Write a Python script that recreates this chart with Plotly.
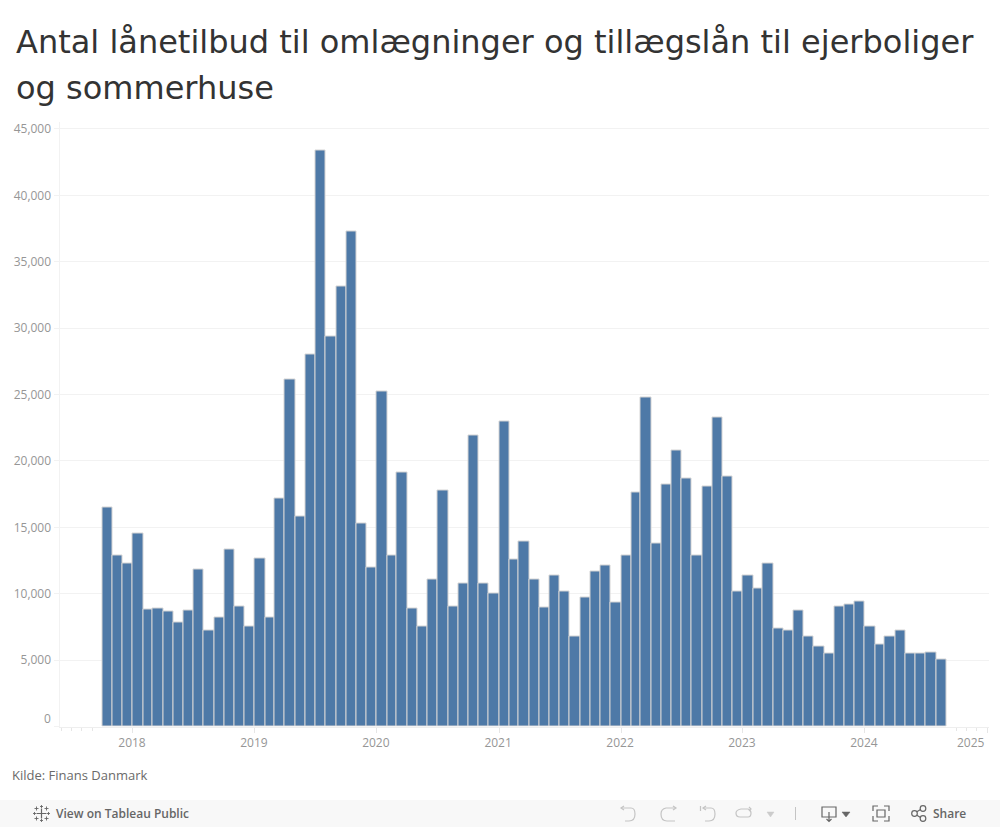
import pandas as pd
import plotly.graph_objects as go

TITLE_LINE_1 = "Antal lånetilbud til omlægninger og tillægslån til ejerboliger"
TITLE_LINE_2 = "og sommerhuse"
SOURCE = "Kilde: Finans Danmark"
FIRST_MONTH = "2017-10-01"
VALUES = [
    16500, 12850, 12250,
    14500, 8800, 8850, 8650, 7800, 8700, 11800, 7200, 8200, 13300, 9000, 7500,
    12650, 8200, 17200, 26100, 15850, 28000, 43350, 29400, 33100, 37250, 15300, 11950,
    25250, 12850, 19150, 8850, 7500, 11100, 17750, 9000, 10800, 21950, 10800, 10050,
    22950, 12550, 13900, 11050, 8950, 11350, 10150, 6800, 9750, 11700, 12150, 9350,
    12900, 17600, 24750, 13750, 18250, 20750, 18650, 12900, 18050, 23300, 18850, 10150,
    11400, 10400, 12250, 7350, 7250, 8700, 6800, 6000, 5500, 9000, 9200, 9400,
    7550, 6200, 6800, 7200, 5500, 5500, 5600, 5050,
]
YEAR_TICKS = ["2018", "2019", "2020", "2021", "2022", "2023", "2024", "2025"]
Y_TICKS = [0, 5000, 10000, 15000, 20000, 25000, 30000, 35000, 40000, 45000]
EMPTY_MONTH_TICKS = ["2017-06-01", "2017-07-01", "2017-08-01", "2017-09-01",
                     "2024-10-01", "2024-11-01", "2024-12-01"]

W, H = 1000, 827
BAR = "#4e79a7"
EDGE = "#d4d4d4"
GRID = "#f2f2f2"
LABEL = "#969696"
TOOL = "#666666"
FAINT = "#c4c4c4"
FONT = "Open Sans, sans-serif"
TITLE_FONT = dict(family="DejaVu Sans, sans-serif", size=32, color="#333333")


def px(x):
    return x / W


def py(y):
    return 1 - y / H


def path(cmds, color, width=1.2, fill=None):
    out = []
    for c in cmds:
        if isinstance(c, str):
            out.append(c)
        else:
            out.append(f"{px(c[0]):.5f} {py(c[1]):.5f}")
    d = dict(type="path", xref="paper", yref="paper", path=" ".join(out),
             line=dict(color=color, width=width), layer="above")
    if fill:
        d["fillcolor"] = fill
    return d


months = pd.date_range(FIRST_MONTH, periods=len(VALUES) + 1, freq="MS")
widths = [(b - a).total_seconds() * 1000 for a, b in zip(months[:-1], months[1:])]

fig = go.Figure(go.Bar(
    x=months[:-1], y=VALUES, width=widths, offset=0,
    marker=dict(color=BAR, line=dict(color=EDGE, width=1)),
    hovertemplate="%{x|%b %Y}: %{y:,}<extra></extra>",
))

shapes = [
    dict(type="rect", xref="paper", yref="paper", x0=0, x1=1, y0=py(827), y1=py(800),
         fillcolor="#f8f8f8", line=dict(width=0), layer="below"),
]
# Tableau toolbar snowflake: one big cross and eight small ones
cx, cy = 41.5, 813.5
shapes.append(path(["M", (cx - 5, cy), "L", (cx + 5, cy), "M", (cx, cy - 5), "L", (cx, cy + 5)], TOOL, 1.2))
for ox, oy, r in [(0, -7, 1.5), (0, 7, 1.5), (-7, 0, 1.5), (7, 0, 1.5),
                  (-5, -5, 2), (5, -5, 2), (-5, 5, 2), (5, 5, 2)]:
    shapes.append(path(["M", (cx + ox - r, cy + oy), "L", (cx + ox + r, cy + oy),
                        "M", (cx + ox, cy + oy - r), "L", (cx + ox, cy + oy + r)], TOOL, 0.9))
# undo / redo / revert / refresh
shapes += [
    path(["M", (621, 808), "L", (631, 808), "Q", (635, 808), (635, 814), "Q", (635, 821), (629, 821), "L", (625, 821)], FAINT),
    path(["M", (624, 806), "L", (621, 808), "L", (624, 810)], FAINT),
    path(["M", (675, 808), "L", (666, 808), "Q", (661, 809), (661, 814), "Q", (661, 821), (667, 821), "L", (675, 821)], FAINT),
    path(["M", (673, 806), "L", (676, 808), "L", (673, 810)], FAINT),
    path(["M", (700.5, 806), "L", (700.5, 811)], FAINT),
    path(["M", (703, 808), "L", (711, 808), "Q", (715, 808), (715, 814), "Q", (715, 821), (709, 821), "L", (705, 821)], FAINT),
    path(["M", (706, 806), "L", (703, 808), "L", (706, 810)], FAINT),
    path(["M", (741, 809), "L", (748, 809), "Q", (751, 810), (751, 813), "Q", (751, 817), (748, 817),
          "L", (740, 817), "Q", (736, 817), (736, 813), "Q", (736, 810), (741, 809)], FAINT),
    path(["M", (749, 807), "L", (751, 809), "L", (749, 811)], FAINT),
    path(["M", (767, 812), "L", (774, 812), "L", (770.5, 817), "Z"], "#cccccc", 0.5, "#cccccc"),
    path(["M", (795.5, 807), "L", (795.5, 820)], FAINT, 1),
    # download
    path(["M", (822, 807), "L", (836, 807), "L", (836, 817), "L", (822, 817), "Z"], TOOL),
    path(["M", (829, 812), "L", (829, 821), "M", (826.5, 819), "L", (829, 821.5), "L", (831.5, 819)], TOOL),
    path(["M", (842, 812), "L", (850, 812), "L", (846, 817), "Z"], TOOL, 0.5, TOOL),
    # fullscreen
    path(["M", (873, 811), "L", (873, 806), "L", (878, 806), "M", (884, 806), "L", (889, 806), "L", (889, 811),
          "M", (889, 816), "L", (889, 821), "L", (884, 821), "M", (878, 821), "L", (873, 821), "L", (873, 816)], TOOL),
    path(["M", (877, 810), "L", (885, 810), "L", (885, 817), "L", (877, 817), "Z"], TOOL),
    # share
    path(["M", (914, 813.5), "L", (923, 808), "M", (914, 813.5), "L", (923, 819)], TOOL),
]
for sx, sy in [(914.5, 813.5), (923, 808.5), (923, 818.5)]:
    shapes.append(dict(type="circle", xref="paper", yref="paper",
                       x0=px(sx - 2.8), x1=px(sx + 2.8), y0=py(sy + 2.8), y1=py(sy - 2.8),
                       line=dict(color=TOOL, width=1.2), fillcolor="#f8f8f8", layer="above"))

annotations = [
    dict(text=TITLE_LINE_2, x=px(15), y=py(88), xanchor="left", yanchor="middle", font=TITLE_FONT),
    dict(text=SOURCE, x=px(11), y=py(775), xanchor="left", yanchor="middle", font=dict(size=13, color="#6a6a6a")),
    dict(text="View on Tableau Public", x=px(54.5), y=py(813.5), xanchor="left", yanchor="middle",
         font=dict(size=12, color=TOOL, weight=600)),
    dict(text="Share", x=px(931.5), y=py(813.5), xanchor="left", yanchor="middle",
         font=dict(size=12, color=TOOL, weight=600)),
    dict(text=YEAR_TICKS[-1], x=px(985.5), y=py(742.5), xanchor="right", yanchor="middle",
         font=dict(size=12, color=LABEL)),
    dict(text=f"{Y_TICKS[0]:,}", x=px(52), y=py(718), xanchor="right", yanchor="middle",
         font=dict(size=12, color=LABEL)),
]
for a in annotations:
    a.update(xref="paper", yref="paper", showarrow=False, borderpad=0)

fig.update_layout(
    width=W, height=H,
    margin=dict(l=0, r=0, t=0, b=0),
    paper_bgcolor="white", plot_bgcolor="white",
    font=dict(family=FONT, size=12, color=LABEL),
    showlegend=False,
    bargap=0,
    title=dict(text=TITLE_LINE_1, x=px(16), y=py(42), xanchor="left", yanchor="middle", xref="paper", yref="paper",
               font=TITLE_FONT, automargin=False),
    xaxis=dict(
        domain=[px(59.5), px(988.5)], range=["2017-05-26", "2025-01-05"],
        tickvals=[f"{y}-01-01" for y in YEAR_TICKS], ticktext=YEAR_TICKS[:-1] + [""],
        ticks="outside", ticklen=5, tickcolor="#e6e6e6", tickwidth=1,
        tickfont=dict(size=12, color=LABEL), ticklabelshift=-1,
        minor=dict(tickmode="array", tickvals=EMPTY_MONTH_TICKS, ticks="outside", ticklen=3,
                   tickcolor="#e6e6e6", showgrid=False),
        showgrid=False, showline=True, linecolor="#eeeeee", linewidth=1, zeroline=False,
    ),
    yaxis=dict(
        domain=[py(726.5), py(121.5)], range=[0, 45560],
        tickvals=Y_TICKS, ticktext=[""] + [f"{v:,}" for v in Y_TICKS[1:]],
        ticks="outside", ticklen=5, tickcolor=GRID, tickfont=dict(size=12, color=LABEL),
        showgrid=True, gridcolor=GRID, gridwidth=1,
        showline=True, linecolor=GRID, linewidth=1, zeroline=False,
    ),
    shapes=shapes,
    annotations=annotations,
)

fig.write_html("out.html", config={"displayModeBar": False},
               post_script="document.body.style.margin='0';document.body.style.overflow='hidden';")
